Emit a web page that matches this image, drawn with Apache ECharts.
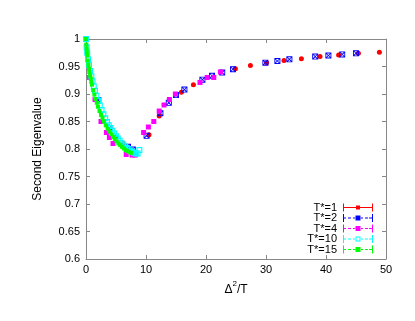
<!DOCTYPE html>
<html>
<head>
<meta charset="utf-8">
<script src="https://cdn.jsdelivr.net/npm/echarts@6/dist/echarts.min.js"></script>
<style>
  html, body { margin: 0; padding: 0; background: #fff; }
  #chart { width: 415px; height: 321px; }
</style>
</head>
<body>
<div id="chart"></div>
<script>
// series names
var seriesNames = ['T*=1', 'T*=2', 'T*=4', 'T*=10', 'T*=15'];

// [Δ²/T, second eigenvalue]
var t1Data = [
  [0, 1], [4.9, 0.822], [6.2, 0.81], [7.4, 0.80],
  [10.5, 0.826], [12.2, 0.86], [15.9, 0.903], [17.9, 0.917], [24.9, 0.946],
  [27.4, 0.952], [30.1, 0.957], [33.0, 0.961], [35.9, 0.964], [39.0, 0.968],
  [42.1, 0.971], [45.4, 0.974], [48.9, 0.976]
];
var t2Data = [
  [0, 1], [2.05, 0.889], [3.9, 0.838], [7.0, 0.804], [7.8, 0.799],
  [10.1, 0.824], [12.4, 0.865], [13.8, 0.884], [15.0, 0.898], [16.4, 0.908],
  [19.4, 0.926], [21.0, 0.933], [22.7, 0.939], [24.5, 0.945], [29.9, 0.957],
  [31.9, 0.96], [33.9, 0.963], [38.2, 0.968], [40.4, 0.97], [42.7, 0.972], [45.0, 0.974]
];
var t4Data = [
  [0, 1], [0.6, 0.93], [1.5, 0.89], [2.5, 0.85], [3.4, 0.83], [3.9, 0.821],
  [4.5, 0.81], [6.7, 0.79], [7.7, 0.789], [8.2, 0.789],
  [9.6, 0.83], [10.4, 0.84], [11.3, 0.85], [12.2, 0.869], [13.0, 0.88],
  [13.9, 0.89], [14.9, 0.9], [19.0, 0.921], [20.2, 0.93], [21.3, 0.93], [22.4, 0.94]
];
var t10Data = [
  [0, 1], [0.1, 0.985], [0.2, 0.975], [0.35, 0.963], [0.5, 0.953], [0.7, 0.942],
  [0.9, 0.932], [1.1, 0.923], [1.3, 0.914], [1.5, 0.906], [1.75, 0.897], [2.0, 0.888],
  [2.3, 0.879], [2.6, 0.871], [2.9, 0.863], [3.2, 0.856], [3.5, 0.849], [3.8, 0.843],
  [4.1, 0.838], [4.4, 0.833], [4.7, 0.828], [5.0, 0.823], [5.3, 0.819], [5.6, 0.815],
  [5.9, 0.811], [6.2, 0.808], [6.5, 0.805], [6.8, 0.802], [7.1, 0.8], [7.4, 0.797],
  [7.7, 0.795], [8.0, 0.793], [8.3, 0.792], [8.6, 0.792], [8.9, 0.798]
];
var t15Data = [
  [0, 1], [0.05, 0.99], [0.1, 0.983], [0.15, 0.976], [0.2, 0.97], [0.3, 0.961],
  [0.4, 0.953], [0.5, 0.946], [0.6, 0.94], [0.7, 0.933], [0.8, 0.928], [0.9, 0.922],
  [1.0, 0.917], [1.2, 0.907], [1.4, 0.899], [1.6, 0.891], [1.8, 0.884], [2.0, 0.877],
  [2.25, 0.869], [2.5, 0.862], [2.75, 0.856], [3.0, 0.85], [3.3, 0.843], [3.6, 0.837],
  [3.9, 0.832], [4.2, 0.827], [4.5, 0.822], [4.8, 0.818], [5.1, 0.814], [5.4, 0.81],
  [5.7, 0.807], [6.0, 0.804], [6.3, 0.801], [6.6, 0.798], [6.9, 0.796], [7.2, 0.794], [7.5, 0.793]
];

var allData = [t1Data, t2Data, t4Data, t10Data, t15Data];
var colors = ['#ff0000', '#0000ff', '#ff00ff', '#00ffff', '#00ff00'];
// box with a cross: square with four triangular holes
var boxCross = 'path://M0,0L10,0L10,10L0,10Z M1.5,2.5L1.5,7.5L4,5Z M8.5,2.5L6,5L8.5,7.5Z M2.5,1.5L5,4L7.5,1.5Z M2.5,8.5L7.5,8.5L5,6Z';
var openBox = 'path://M0,0L10,0L10,10L0,10Z M2,2L2,8L8,8L8,2Z';
var symbols = ['circle', boxCross, 'rect', openBox, 'rect'];
var sizes = [5, 6, 5, 6, 4];

// legend icons: errorbar style line with a marker in the middle
var solidIcon = 'path://M0,0h1v8h-1z M29,0h1v8h-1z M0,3.5h30v1h-30z M13,2h4v4h-4z';
var dashIcon = 'path://M0,0h1v8h-1z M29,0h1v8h-1z M0,3.5h3v1h-3z M5,3.5h3v1h-3z M10,3.5h2v1h-2z M18,3.5h2v1h-2z M22,3.5h3v1h-3z M26,3.5h3v1h-3z M12.5,1.5h5v5h-5z';
var openIcon = 'path://M0,0h1v8h-1z M29,0h1v8h-1z M0,3.5h3v1h-3z M5,3.5h3v1h-3z M10,3.5h2v1h-2z M18,3.5h2v1h-2z M22,3.5h3v1h-3z M26,3.5h3v1h-3z M12.5,1.5L12.5,6.5L17.5,6.5L17.5,1.5Z M13.5,2.5L16.5,2.5L16.5,5.5L13.5,5.5Z';
var icons = [solidIcon, dashIcon, dashIcon, openIcon, dashIcon];
var legendCenters = [209, 219.5, 230, 240.5, 251];

var font = '"Liberation Sans", Arial, sans-serif';
var axisGrey = '#888888';

var chart = echarts.init(document.getElementById('chart'), null, { renderer: 'canvas' });

var legends = seriesNames.map(function (name, i) {
  return {
    data: [{ name: name, icon: icons[i] }],
    right: 42,
    top: legendCenters[i] - 7,
    padding: 0,
    align: 'right',
    itemWidth: 30,
    itemHeight: 8,
    itemGap: 0,
    selectedMode: false,
    itemStyle: { borderWidth: 0 },
    textStyle: { fontFamily: font, fontSize: 11, color: '#000', padding: [0, 1, 0, 0] }
  };
});

var series = seriesNames.map(function (name, i) {
  return {
    name: name,
    type: 'scatter',
    data: allData[i],
    symbol: symbols[i],
    symbolSize: sizes[i],
    itemStyle: { color: colors[i], opacity: 1, borderWidth: 0 },
    animation: false
  };
});

var option = {
  backgroundColor: '#ffffff',
  animation: false,
  legend: legends,
  grid: { left: 86, right: 29, top: 39, bottom: 62 },
  xAxis: [{
    type: 'value', min: 0, max: 50, interval: 10,
    name: '{d|Δ}{s|2}{d|/T}',
    nameLocation: 'middle', nameGap: 18,
    nameTextStyle: {
      rich: {
        d: { fontFamily: font, fontSize: 12, color: '#000', verticalAlign: 'bottom', lineHeight: 16 },
        s: { fontFamily: font, fontSize: 8, color: '#000', verticalAlign: 'top', lineHeight: 10 }
      }
    },
    axisLine: { show: true, onZero: false, lineStyle: { color: axisGrey, width: 1 } },
    axisTick: { show: true, inside: true, length: 4, lineStyle: { color: axisGrey } },
    axisLabel: { fontFamily: font, fontSize: 11, color: '#000', margin: 5 },
    splitLine: { show: false }
  }, {
    type: 'value', min: 0, max: 50, interval: 10, position: 'top',
    axisLine: { show: true, onZero: false, lineStyle: { color: axisGrey, width: 1 } },
    axisTick: { show: true, inside: true, length: 4, lineStyle: { color: axisGrey } },
    axisLabel: { show: false },
    splitLine: { show: false }
  }],
  yAxis: [{
    type: 'value', min: 0.6, max: 1, interval: 0.05,
    name: 'Second Eigenvalue',
    nameLocation: 'middle', nameGap: 42, nameRotate: 90,
    nameTextStyle: { fontFamily: font, fontSize: 12, color: '#000' },
    axisLine: { show: true, onZero: false, lineStyle: { color: axisGrey, width: 1 } },
    axisTick: { show: true, inside: true, length: 4, lineStyle: { color: axisGrey } },
    axisLabel: { fontFamily: font, fontSize: 11, color: '#000', margin: 6 },
    splitLine: { show: false }
  }, {
    type: 'value', min: 0.6, max: 1, interval: 0.05, position: 'right',
    axisLine: { show: true, onZero: false, lineStyle: { color: axisGrey, width: 1 } },
    axisTick: { show: true, inside: true, length: 4, lineStyle: { color: axisGrey } },
    axisLabel: { show: false },
    splitLine: { show: false }
  }],
  series: series
};

chart.setOption(option);
</script>
</body>
</html>
